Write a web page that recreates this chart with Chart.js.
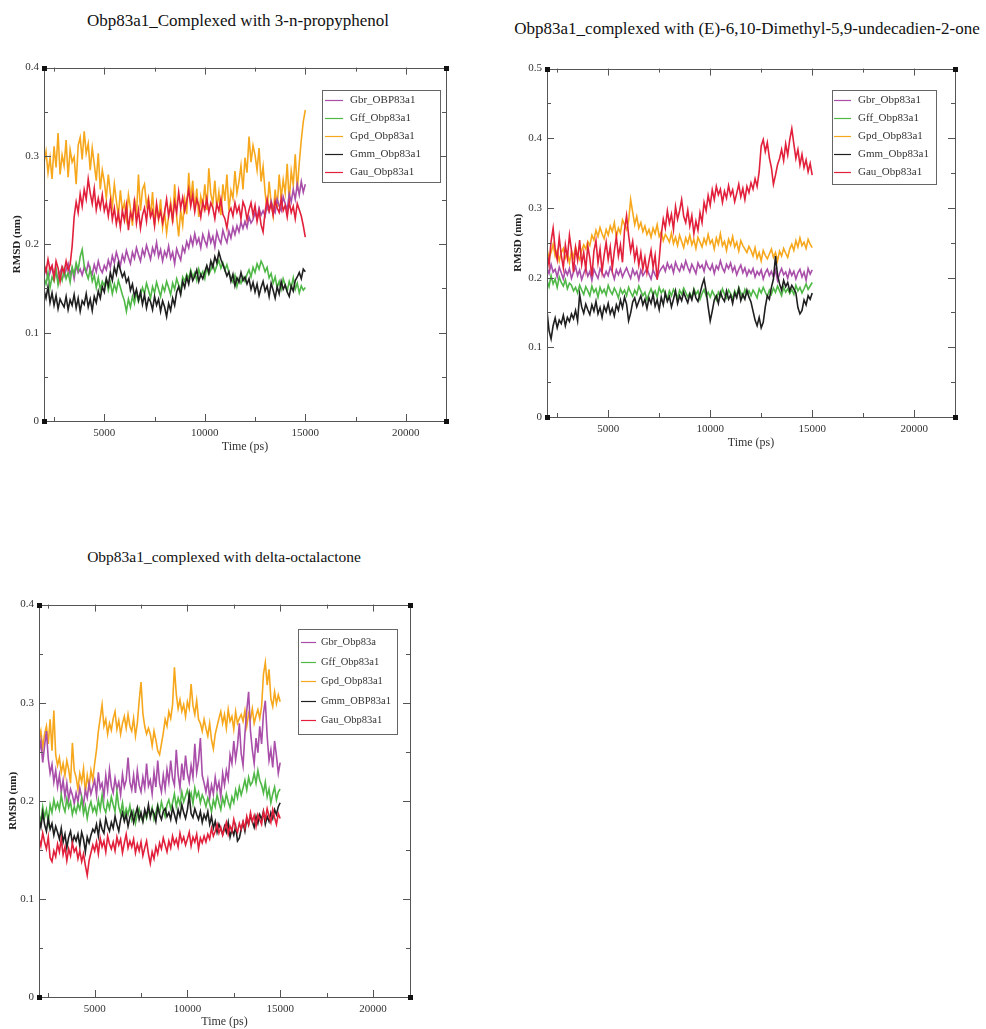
<!DOCTYPE html>
<html>
<head>
<meta charset="utf-8">
<script src="https://cdn.jsdelivr.net/npm/chart.js@4.4.0/dist/chart.umd.min.js"></script>
<style>
  body { margin: 0; background: #fff; width: 986px; height: 1029px; position: relative; overflow: hidden; font-family: "Liberation Serif", serif; }
  .title { position: absolute; color: #111; white-space: nowrap; transform: translateX(-50%); line-height: 18px; }
  .panel { position: absolute; }
</style>
</head>
<body>
<div class="title" style="left:238px; top:12px; font-size:17px">Obp83a1_Complexed with 3-n-propyphenol</div>
<div class="title" style="left:747px; top:20px; font-size:17px">Obp83a1_complexed with (E)-6,10-Dimethyl-5,9-undecadien-2-one</div>
<div class="title" style="left:224px; top:548px; font-size:15.5px">Obp83a1_complexed with delta-octalactone</div>

<div class="panel" style="left:0; top:56px"><canvas id="chart1" width="460" height="400"></canvas></div>
<div class="panel" style="left:504px; top:57px"><canvas id="chart2" width="470" height="395"></canvas></div>
<div class="panel" style="left:0; top:593px"><canvas id="chart3" width="424" height="436"></canvas></div>

<script>
// sampling of the trajectories (ps)
const tStart = 2000;
const tStep = 100;

// axis ticks
const xTicks = [5000, 10000, 15000, 20000];
const xMinor = [2500, 7500, 12500, 17500];
const yTicks04 = [0, 0.1, 0.2, 0.3, 0.4];
const yMinor04 = [0.05, 0.15, 0.25, 0.35];
const yTicks05 = [0, 0.1, 0.2, 0.3, 0.4, 0.5];
const yMinor05 = [0.05, 0.15, 0.25, 0.35, 0.45];

// legend labels
const labels1 = ["Gbr_OBP83a1", "Gff_Obp83a1", "Gpd_Obp83a1", "Gmm_Obp83a1", "Gau_Obp83a1"];
const labels2 = ["Gbr_Obp83a1", "Gff_Obp83a1", "Gpd_Obp83a1", "Gmm_Obp83a1", "Gau_Obp83a1"];
const labels3 = ["Gbr_Obp83a", "Gff_Obp83a1", "Gpd_Obp83a1", "Gmm_OBP83a1", "Gau_Obp83a1"];

// ---- Panel 1: 3-n-propyphenol ----
const gbr1 = [
  0.166,0.172,0.161,0.168,0.175,0.163,0.171,0.158,0.169,0.174,
  0.164,0.171,0.178,0.166,0.173,0.161,0.176,0.168,0.172,0.165,
  0.174,0.168,0.179,0.171,0.166,0.177,0.169,0.181,0.172,0.168,
  0.176,0.171,0.182,0.174,0.187,0.179,0.191,0.183,0.176,0.188,
  0.181,0.193,0.185,0.178,0.191,0.184,0.196,0.188,0.181,0.194,
  0.187,0.199,0.191,0.183,0.196,0.189,0.202,0.186,0.194,0.181,
  0.192,0.186,0.198,0.184,0.191,0.178,0.195,0.188,0.182,0.197,
  0.191,0.203,0.196,0.208,0.199,0.212,0.201,0.207,0.196,0.211,
  0.204,0.198,0.213,0.202,0.209,0.197,0.214,0.206,0.201,0.216,
  0.208,0.202,0.215,0.207,0.219,0.211,0.221,0.214,0.225,0.218,
  0.226,0.219,0.231,0.224,0.228,0.236,0.229,0.241,0.233,0.238,
  0.232,0.244,0.237,0.249,0.241,0.236,0.251,0.243,0.238,0.254,
  0.246,0.239,0.257,0.248,0.262,0.251,0.268,0.256,0.271,0.259,
  0.268
];
const gff1 = [
  0.162,0.155,0.168,0.151,0.163,0.158,0.171,0.154,0.166,0.159,
  0.172,0.161,0.168,0.157,0.174,0.166,0.179,0.171,0.186,0.194,
  0.176,0.168,0.161,0.172,0.158,0.165,0.151,0.162,0.149,0.158,
  0.153,0.161,0.148,0.157,0.144,0.155,0.147,0.159,0.151,0.143,
  0.136,0.124,0.138,0.129,0.141,0.133,0.146,0.135,0.142,0.151,
  0.144,0.156,0.148,0.139,0.152,0.145,0.157,0.149,0.141,0.153,
  0.147,0.158,0.151,0.143,0.156,0.149,0.161,0.154,0.147,0.163,
  0.158,0.166,0.161,0.171,0.163,0.168,0.159,0.172,0.164,0.169,
  0.161,0.174,0.166,0.171,0.178,0.169,0.176,0.182,0.173,0.179,
  0.171,0.177,0.168,0.162,0.157,0.165,0.152,0.161,0.156,0.163,
  0.158,0.166,0.171,0.163,0.174,0.168,0.178,0.172,0.181,0.176,
  0.169,0.174,0.162,0.167,0.156,0.163,0.151,0.158,0.149,0.161,
  0.154,0.147,0.158,0.151,0.162,0.149,0.156,0.145,0.153,0.148,
  0.151
];
const gpd1 = [
  0.292,0.305,0.281,0.298,0.274,0.311,0.287,0.326,0.279,0.301,
  0.289,0.318,0.276,0.307,0.293,0.299,0.268,0.312,0.321,0.296,
  0.328,0.303,0.314,0.284,0.309,0.291,0.272,0.303,0.262,0.284,
  0.271,0.252,0.279,0.258,0.243,0.268,0.249,0.232,0.261,0.238,
  0.247,0.229,0.256,0.241,0.221,0.252,0.233,0.279,0.238,0.262,
  0.268,0.244,0.253,0.231,0.259,0.222,0.243,0.228,0.251,0.219,
  0.236,0.213,0.232,0.248,0.224,0.268,0.231,0.209,0.238,0.222,
  0.251,0.234,0.281,0.249,0.272,0.238,0.263,0.231,0.254,0.242,
  0.268,0.239,0.286,0.257,0.246,0.272,0.241,0.259,0.233,0.268,
  0.249,0.279,0.238,0.261,0.252,0.283,0.258,0.271,0.289,0.262,
  0.298,0.281,0.322,0.293,0.312,0.301,0.284,0.309,0.271,0.288,
  0.259,0.238,0.271,0.247,0.232,0.262,0.241,0.279,0.252,0.273,
  0.258,0.291,0.248,0.283,0.267,0.302,0.261,0.292,0.318,0.339,
  0.352
];
const gmm1 = [
  0.148,0.139,0.152,0.134,0.145,0.131,0.142,0.127,0.138,0.133,
  0.129,0.141,0.126,0.137,0.131,0.143,0.128,0.139,0.124,0.136,
  0.132,0.144,0.129,0.138,0.125,0.141,0.134,0.147,0.139,0.152,
  0.146,0.161,0.153,0.168,0.159,0.174,0.166,0.179,0.171,0.163,
  0.168,0.157,0.162,0.148,0.155,0.141,0.149,0.137,0.146,0.132,
  0.143,0.128,0.139,0.135,0.126,0.141,0.131,0.138,0.124,0.136,
  0.129,0.118,0.133,0.125,0.139,0.131,0.146,0.152,0.143,0.158,
  0.151,0.163,0.155,0.168,0.159,0.164,0.171,0.158,0.166,0.161,
  0.169,0.176,0.168,0.181,0.174,0.186,0.179,0.191,0.183,0.177,
  0.171,0.164,0.169,0.158,0.166,0.153,0.162,0.157,0.168,0.159,
  0.163,0.155,0.161,0.149,0.157,0.146,0.155,0.142,0.151,0.158,
  0.147,0.153,0.141,0.156,0.148,0.139,0.152,0.144,0.158,0.149,
  0.154,0.146,0.141,0.153,0.147,0.159,0.163,0.168,0.161,0.172,
  0.169
];
const gau1 = [
  0.178,0.169,0.183,0.171,0.176,0.162,0.181,0.173,0.158,0.174,
  0.168,0.181,0.171,0.177,0.198,0.231,0.248,0.236,0.257,0.243,
  0.262,0.251,0.274,0.258,0.246,0.263,0.239,0.252,0.241,0.256,
  0.238,0.247,0.232,0.249,0.228,0.241,0.223,0.236,0.219,0.238,
  0.227,0.244,0.216,0.236,0.229,0.248,0.224,0.239,0.218,0.233,
  0.241,0.226,0.249,0.231,0.238,0.221,0.246,0.229,0.237,0.224,
  0.236,0.251,0.232,0.244,0.227,0.248,0.236,0.259,0.241,0.253,
  0.238,0.249,0.262,0.243,0.256,0.237,0.251,0.244,0.231,0.248,
  0.239,0.252,0.236,0.247,0.241,0.229,0.246,0.238,0.251,0.234,
  0.229,0.218,0.236,0.241,0.232,0.247,0.236,0.243,0.229,0.248,
  0.242,0.228,0.239,0.247,0.233,0.244,0.226,0.238,0.222,0.214,
  0.237,0.251,0.238,0.246,0.233,0.249,0.241,0.236,0.252,0.238,
  0.244,0.231,0.248,0.236,0.243,0.229,0.246,0.239,0.232,0.221,
  0.208
];

// ---- Panel 2: (E)-6,10-Dimethyl-5,9-undecadien-2-one ----
const gbr2 = [
  0.214,0.206,0.219,0.208,0.212,0.201,0.215,0.207,0.198,0.211,
  0.204,0.213,0.199,0.208,0.216,0.203,0.211,0.197,0.206,0.214,
  0.202,0.209,0.196,0.212,0.205,0.199,0.213,0.207,0.201,0.209,
  0.203,0.215,0.208,0.198,0.211,0.204,0.212,0.201,0.208,0.214,
  0.206,0.199,0.212,0.204,0.209,0.197,0.211,0.203,0.208,0.213,
  0.205,0.198,0.211,0.204,0.199,0.208,0.213,0.217,0.209,0.221,
  0.213,0.218,0.207,0.222,0.214,0.209,0.219,0.212,0.224,0.215,
  0.208,0.219,0.213,0.206,0.221,0.214,0.218,0.209,0.223,0.215,
  0.211,0.219,0.206,0.217,0.212,0.224,0.214,0.208,0.219,0.213,
  0.221,0.209,0.216,0.204,0.212,0.218,0.207,0.214,0.203,0.211,
  0.206,0.213,0.201,0.209,0.204,0.211,0.198,0.207,0.212,0.203,
  0.209,0.201,0.211,0.196,0.206,0.213,0.204,0.208,0.199,0.211,
  0.203,0.209,0.198,0.207,0.212,0.201,0.208,0.196,0.213,0.205,
  0.211
];
const gff2 = [
  0.196,0.187,0.203,0.191,0.198,0.186,0.201,0.193,0.188,0.197,
  0.184,0.192,0.189,0.181,0.186,0.178,0.189,0.182,0.176,0.187,
  0.181,0.174,0.188,0.179,0.184,0.172,0.186,0.178,0.183,0.175,
  0.189,0.181,0.176,0.185,0.179,0.171,0.184,0.177,0.182,0.174,
  0.186,0.179,0.173,0.182,0.176,0.188,0.181,0.174,0.179,0.168,
  0.177,0.184,0.175,0.181,0.172,0.186,0.178,0.183,0.176,0.169,
  0.181,0.174,0.183,0.177,0.171,0.182,0.176,0.185,0.179,0.172,
  0.178,0.171,0.184,0.176,0.181,0.169,0.177,0.183,0.174,0.179,
  0.172,0.181,0.175,0.168,0.179,0.173,0.184,0.176,0.171,0.182,
  0.177,0.169,0.181,0.174,0.186,0.178,0.172,0.183,0.176,0.181,
  0.174,0.182,0.177,0.171,0.184,0.178,0.186,0.179,0.173,0.182,
  0.176,0.185,0.179,0.188,0.181,0.174,0.186,0.179,0.184,0.177,
  0.183,0.176,0.189,0.181,0.186,0.178,0.184,0.191,0.183,0.188,
  0.193
];
const gpd2 = [
  0.241,0.229,0.236,0.248,0.231,0.239,0.224,0.236,0.242,0.228,
  0.235,0.221,0.238,0.229,0.244,0.232,0.226,0.239,0.247,0.241,
  0.252,0.246,0.261,0.254,0.268,0.259,0.272,0.263,0.256,0.269,
  0.261,0.274,0.266,0.279,0.258,0.271,0.264,0.283,0.276,0.269,
  0.281,0.312,0.294,0.276,0.288,0.271,0.279,0.266,0.274,0.262,
  0.269,0.258,0.271,0.263,0.276,0.259,0.266,0.253,0.262,0.257,
  0.251,0.264,0.249,0.258,0.246,0.261,0.252,0.243,0.257,0.249,
  0.261,0.247,0.255,0.242,0.258,0.251,0.244,0.256,0.248,0.262,
  0.249,0.254,0.241,0.257,0.248,0.263,0.246,0.252,0.239,0.255,
  0.247,0.259,0.244,0.251,0.238,0.253,0.246,0.241,0.236,0.245,
  0.239,0.231,0.243,0.228,0.236,0.224,0.239,0.232,0.227,0.234,
  0.241,0.229,0.236,0.224,0.238,0.231,0.242,0.235,0.229,0.241,
  0.248,0.239,0.253,0.244,0.257,0.246,0.251,0.242,0.255,0.248,
  0.243
];
const gmm2 = [
  0.152,0.124,0.112,0.131,0.142,0.128,0.139,0.134,0.146,0.131,
  0.143,0.137,0.148,0.141,0.153,0.138,0.176,0.158,0.149,0.162,
  0.154,0.147,0.161,0.152,0.166,0.148,0.157,0.143,0.159,0.151,
  0.163,0.148,0.156,0.145,0.161,0.153,0.168,0.157,0.172,0.162,
  0.138,0.149,0.165,0.171,0.158,0.166,0.174,0.161,0.169,0.156,
  0.171,0.163,0.176,0.159,0.168,0.154,0.172,0.161,0.178,0.166,
  0.173,0.158,0.169,0.181,0.163,0.174,0.167,0.179,0.171,0.164,
  0.176,0.168,0.182,0.171,0.166,0.177,0.189,0.198,0.181,0.158,
  0.138,0.152,0.168,0.174,0.163,0.179,0.171,0.166,0.181,0.169,
  0.175,0.163,0.178,0.171,0.184,0.167,0.176,0.169,0.182,0.172,
  0.165,0.152,0.139,0.131,0.143,0.128,0.136,0.158,0.174,0.169,
  0.186,0.198,0.231,0.204,0.191,0.182,0.196,0.187,0.193,0.181,
  0.189,0.184,0.178,0.157,0.148,0.153,0.168,0.161,0.174,0.169,
  0.178
];
const gau2 = [
  0.236,0.218,0.252,0.271,0.241,0.226,0.258,0.232,0.214,0.247,
  0.228,0.261,0.239,0.208,0.243,0.225,0.254,0.219,0.236,0.212,
  0.245,0.228,0.202,0.238,0.253,0.221,0.241,0.209,0.232,0.251,
  0.226,0.244,0.213,0.238,0.259,0.231,0.247,0.222,0.268,0.289,
  0.261,0.238,0.252,0.226,0.241,0.218,0.236,0.212,0.229,0.207,
  0.224,0.239,0.215,0.232,0.197,0.226,0.261,0.284,0.271,0.296,
  0.278,0.291,0.269,0.302,0.284,0.296,0.312,0.288,0.279,0.297,
  0.274,0.289,0.263,0.281,0.268,0.293,0.279,0.308,0.296,0.318,
  0.304,0.326,0.312,0.331,0.319,0.327,0.308,0.324,0.314,0.332,
  0.318,0.326,0.309,0.321,0.334,0.316,0.328,0.312,0.331,0.322,
  0.336,0.327,0.342,0.331,0.352,0.389,0.398,0.381,0.394,0.372,
  0.358,0.334,0.347,0.362,0.371,0.384,0.368,0.392,0.376,0.398,
  0.414,0.392,0.371,0.384,0.362,0.377,0.358,0.369,0.352,0.364,
  0.347
];

// ---- Panel 3: delta-octalactone ----
const gbr3 = [
  0.248,0.261,0.239,0.256,0.271,0.243,0.228,0.237,0.219,0.231,
  0.214,0.226,0.209,0.221,0.204,0.218,0.201,0.212,0.206,0.197,
  0.208,0.199,0.213,0.204,0.196,0.211,0.203,0.218,0.207,0.214,
  0.221,0.206,0.229,0.213,0.218,0.204,0.226,0.211,0.232,0.215,
  0.208,0.223,0.212,0.219,0.206,0.227,0.214,0.221,0.244,0.219,
  0.211,0.226,0.208,0.231,0.216,0.209,0.224,0.213,0.238,0.215,
  0.221,0.207,0.229,0.214,0.241,0.218,0.209,0.226,0.212,0.232,
  0.219,0.241,0.223,0.216,0.252,0.227,0.213,0.238,0.221,0.246,
  0.228,0.219,0.236,0.224,0.258,0.229,0.241,0.264,0.226,0.218,
  0.209,0.221,0.203,0.216,0.207,0.224,0.211,0.219,0.204,0.228,
  0.216,0.231,0.222,0.247,0.238,0.261,0.242,0.256,0.279,0.248,
  0.236,0.268,0.292,0.311,0.271,0.252,0.238,0.264,0.249,0.276,
  0.258,0.289,0.302,0.266,0.241,0.252,0.234,0.261,0.246,0.228,
  0.239
];
const gff3 = [
  0.186,0.179,0.194,0.183,0.191,0.178,0.196,0.188,0.201,0.192,
  0.198,0.191,0.206,0.195,0.189,0.202,0.193,0.199,0.186,0.194,
  0.188,0.197,0.191,0.203,0.187,0.195,0.182,0.193,0.199,0.189,
  0.194,0.187,0.201,0.191,0.206,0.193,0.188,0.199,0.192,0.204,
  0.196,0.189,0.209,0.194,0.187,0.198,0.184,0.192,0.186,0.195,
  0.181,0.189,0.177,0.186,0.192,0.183,0.179,0.188,0.182,0.191,
  0.185,0.193,0.181,0.188,0.196,0.187,0.199,0.191,0.184,0.196,
  0.201,0.192,0.198,0.207,0.194,0.203,0.196,0.209,0.199,0.205,
  0.211,0.202,0.208,0.197,0.213,0.204,0.209,0.198,0.206,0.201,
  0.194,0.203,0.197,0.189,0.201,0.194,0.206,0.198,0.191,0.203,
  0.196,0.207,0.199,0.193,0.204,0.198,0.211,0.203,0.214,0.206,
  0.213,0.221,0.211,0.224,0.216,0.219,0.228,0.218,0.231,0.221,
  0.216,0.208,0.219,0.204,0.212,0.198,0.207,0.214,0.201,0.209,
  0.212
];
const gpd3 = [
  0.262,0.271,0.254,0.268,0.276,0.258,0.283,0.251,0.292,0.247,
  0.236,0.244,0.229,0.238,0.226,0.241,0.232,0.218,0.259,0.231,
  0.224,0.212,0.228,0.219,0.233,0.208,0.226,0.214,0.231,0.221,
  0.238,0.252,0.271,0.284,0.298,0.276,0.283,0.268,0.279,0.272,
  0.284,0.291,0.273,0.282,0.268,0.279,0.286,0.274,0.288,0.276,
  0.271,0.284,0.266,0.279,0.302,0.321,0.289,0.276,0.268,0.274,
  0.268,0.256,0.271,0.262,0.251,0.247,0.258,0.269,0.283,0.276,
  0.291,0.284,0.298,0.336,0.309,0.294,0.303,0.291,0.298,0.286,
  0.301,0.294,0.319,0.297,0.288,0.302,0.283,0.279,0.271,0.283,
  0.274,0.266,0.279,0.262,0.253,0.268,0.276,0.284,0.291,0.279,
  0.288,0.274,0.293,0.281,0.286,0.273,0.291,0.279,0.284,0.288,
  0.281,0.292,0.276,0.289,0.283,0.294,0.279,0.287,0.293,0.284,
  0.296,0.329,0.341,0.318,0.334,0.304,0.296,0.311,0.299,0.308,
  0.301
];
const gmm3 = [
  0.181,0.173,0.188,0.176,0.169,0.182,0.171,0.177,0.165,0.174,
  0.168,0.161,0.172,0.158,0.166,0.152,0.163,0.169,0.157,0.164,
  0.159,0.166,0.154,0.168,0.161,0.148,0.163,0.157,0.165,0.171,
  0.168,0.176,0.164,0.179,0.171,0.167,0.182,0.174,0.169,0.178,
  0.172,0.184,0.176,0.169,0.181,0.188,0.179,0.186,0.174,0.183,
  0.189,0.178,0.186,0.193,0.181,0.188,0.179,0.191,0.184,0.196,
  0.183,0.191,0.187,0.179,0.194,0.186,0.181,0.189,0.192,0.184,
  0.188,0.181,0.193,0.186,0.179,0.191,0.184,0.196,0.188,0.182,
  0.191,0.206,0.187,0.183,0.192,0.186,0.181,0.189,0.178,0.186,
  0.181,0.189,0.176,0.184,0.172,0.179,0.168,0.176,0.171,0.166,
  0.174,0.168,0.178,0.163,0.171,0.165,0.174,0.159,0.162,0.171,
  0.178,0.169,0.182,0.176,0.185,0.179,0.173,0.184,0.177,0.186,
  0.181,0.189,0.176,0.184,0.179,0.188,0.182,0.191,0.186,0.194,
  0.198
];
const gau3 = [
  0.162,0.154,0.167,0.158,0.151,0.163,0.142,0.138,0.149,0.143,
  0.156,0.148,0.161,0.145,0.153,0.139,0.151,0.144,0.157,0.148,
  0.152,0.141,0.149,0.138,0.146,0.134,0.124,0.139,0.147,0.155,
  0.149,0.158,0.146,0.162,0.153,0.159,0.148,0.164,0.156,0.151,
  0.158,0.149,0.163,0.155,0.161,0.147,0.157,0.166,0.152,0.159,
  0.153,0.161,0.147,0.156,0.149,0.158,0.144,0.152,0.159,0.146,
  0.136,0.148,0.141,0.153,0.146,0.157,0.151,0.162,0.155,0.148,
  0.159,0.152,0.164,0.156,0.161,0.153,0.167,0.158,0.163,0.155,
  0.161,0.168,0.154,0.163,0.158,0.166,0.151,0.162,0.157,0.164,
  0.158,0.166,0.161,0.172,0.164,0.169,0.176,0.167,0.173,0.165,
  0.171,0.178,0.166,0.174,0.169,0.181,0.172,0.168,0.177,0.171,
  0.179,0.172,0.184,0.176,0.188,0.179,0.185,0.174,0.186,0.181,
  0.176,0.189,0.181,0.192,0.184,0.178,0.191,0.183,0.176,0.187,
  0.182
];

// series colours, in legend order: Gbr, Gff, Gpd, Gmm, Gau
const colors = ["#a94ea9", "#4fb847", "#f6a71c", "#1f1f1f", "#e2203b"];
// draw order: lower number is painted on top
const drawOrder = [4, 3, 5, 2, 1];

const fontFamily = "'Liberation Serif', 'Times New Roman', serif";

// frame with inward ticks on all four sides, like the xmgrace output
const framePlugin = {
  id: "frame",
  afterDatasetsDraw(chart, args, opts) {
    const { ctx, chartArea: a, scales: { x, y } } = chart;
    ctx.save();
    ctx.strokeStyle = "#555";
    ctx.lineWidth = 1;
    ctx.strokeRect(Math.round(a.left) + 0.5, Math.round(a.top) + 0.5, Math.round(a.width), Math.round(a.height));

    const line = (x1, y1, x2, y2) => {
      ctx.beginPath();
      ctx.moveTo(x1, y1);
      ctx.lineTo(x2, y2);
      ctx.stroke();
    };
    [[xTicks, 7], [xMinor, 4]].forEach(([list, len]) => {
      list.forEach(v => {
        const px = Math.round(x.getPixelForValue(v)) + 0.5;
        line(px, a.bottom, px, a.bottom - len);
        line(px, a.top, px, a.top + len);
      });
    });
    [[opts.yMajor, 7], [opts.yMinor, 4]].forEach(([list, len]) => {
      list.forEach(v => {
        const py = Math.round(y.getPixelForValue(v)) + 0.5;
        line(a.left, py, a.left + len, py);
        line(a.right, py, a.right - len, py);
      });
    });

    // little corner markers
    ctx.fillStyle = "#111";
    [[a.left, a.top], [a.right, a.top], [a.left, a.bottom], [a.right, a.bottom]].forEach(([cx, cy]) => {
      ctx.fillRect(Math.round(cx) - 2, Math.round(cy) - 2, 5, 5);
    });
    ctx.restore();
  }
};

// boxed legend inside the plot area
const boxLegendPlugin = {
  id: "boxLegend",
  afterDraw(chart, args, opts) {
    const { ctx } = chart;
    ctx.save();
    ctx.fillStyle = "#fff";
    ctx.fillRect(opts.x, opts.y, opts.w, opts.h);
    ctx.strokeStyle = "#666";
    ctx.lineWidth = 1;
    ctx.strokeRect(opts.x + 0.5, opts.y + 0.5, opts.w, opts.h);
    ctx.font = opts.font + "px " + fontFamily;
    ctx.textBaseline = "middle";
    chart.data.datasets.forEach((ds, i) => {
      const ry = Math.round(opts.y + opts.first + i * opts.gap) + 0.5;
      ctx.strokeStyle = ds.borderColor;
      ctx.lineWidth = 1.2;
      ctx.beginPath();
      ctx.moveTo(opts.x + opts.lineFrom, ry);
      ctx.lineTo(opts.x + opts.lineTo, ry);
      ctx.stroke();
      ctx.fillStyle = "#333";
      ctx.fillText(ds.label, opts.x + opts.textAt, ry);
    });
    ctx.restore();
  }
};

function makeChart(id, labels, series, yMax, yMajor, yMinor, geom, legendBox) {
  const datasets = series.map((vals, i) => ({
    label: labels[i],
    data: vals.map((v, k) => ({ x: tStart + k * tStep, y: v })),
    borderColor: colors[i],
    borderWidth: 1.6,
    pointRadius: 0,
    tension: 0,
    order: drawOrder[i]
  }));

  return new Chart(document.getElementById(id), {
    type: "line",
    data: { datasets },
    options: {
      responsive: false,
      animation: false,
      events: [],
      layout: { padding: { left: 0, top: 10, right: geom.right, bottom: 0 } },
      plugins: {
        legend: { display: false },
        tooltip: { enabled: false },
        frame: { yMajor, yMinor },
        boxLegend: legendBox
      },
      scales: {
        x: {
          type: "linear",
          min: 2000,
          max: 22000,
          afterBuildTicks: s => { s.ticks = xTicks.map(v => ({ value: v })); },
          afterFit: s => { s.height = geom.xh; },
          grid: { display: false, drawTicks: false },
          border: { display: false },
          ticks: {
            padding: 6,
            color: "#333",
            font: { family: fontFamily, size: 11 },
            maxRotation: 0,
            callback: v => String(v)
          },
          title: {
            display: true,
            text: "Time (ps)",
            color: "#333",
            font: { family: fontFamily, size: 12 },
            padding: { top: 0, bottom: geom.xtPad }
          }
        },
        y: {
          min: 0,
          max: yMax,
          afterBuildTicks: s => { s.ticks = yMajor.map(v => ({ value: v })); },
          afterFit: s => { s.width = geom.yw; },
          grid: { display: false, drawTicks: false },
          border: { display: false },
          ticks: {
            padding: 5,
            color: "#333",
            font: { family: fontFamily, size: 11 },
            callback: v => String(v)
          },
          title: {
            display: true,
            text: "RMSD (nm)",
            color: "#222",
            font: { family: fontFamily, size: 11, weight: "bold" },
            padding: { top: geom.ytPad, bottom: 0 }
          }
        }
      }
    },
    plugins: [framePlugin, boxLegendPlugin]
  });
}

makeChart("chart1", labels1, [gbr1, gff1, gpd1, gmm1, gau1], 0.4, yTicks04, yMinor04,
  { right: 14, xh: 35, yw: 44, xtPad: 2, ytPad: 11 },
  { x: 322, y: 34, w: 118, h: 92, first: 10, gap: 18, lineFrom: 3, lineTo: 21, textAt: 28, font: 11 });

makeChart("chart2", labels2, [gbr2, gff2, gpd2, gmm2, gau2], 0.5, yTicks05, yMinor05,
  { right: 19, xh: 35, yw: 43, xtPad: 2, ytPad: 8 },
  { x: 328, y: 33, w: 104, h: 94, first: 10, gap: 18, lineFrom: 2, lineTo: 19, textAt: 26, font: 11 });

makeChart("chart3", labels3, [gbr3, gff3, gpd3, gmm3, gau3], 0.4, yTicks04, yMinor04,
  { right: 14, xh: 32, yw: 39, xtPad: 0, ytPad: 7 },
  { x: 298, y: 36, w: 99, h: 105, first: 13, gap: 19.5, lineFrom: 3, lineTo: 18, textAt: 23, font: 10.5 });
</script>
</body>
</html>
